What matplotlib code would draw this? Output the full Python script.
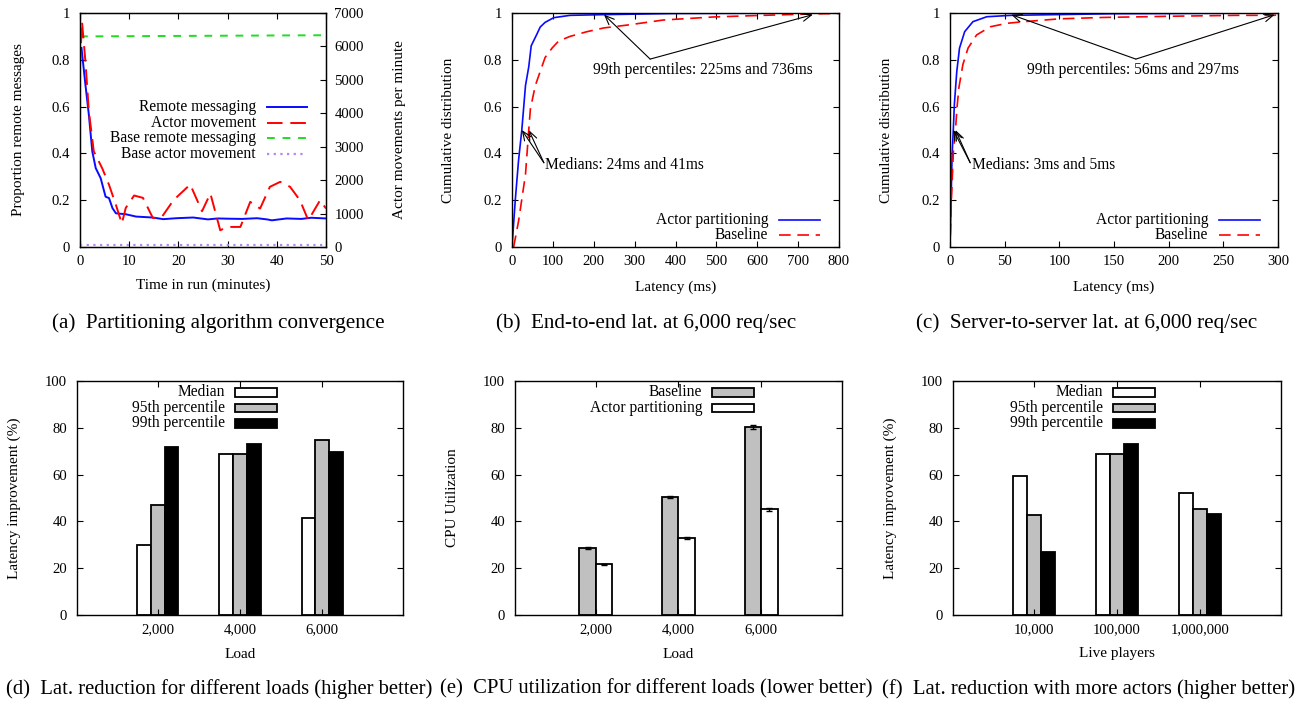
#!/usr/bin/env python3
"""Six-panel figure: partitioning convergence, latency CDFs and bar summaries."""

import matplotlib

matplotlib.use("Agg")
import matplotlib.pyplot as plt
from matplotlib.patches import Rectangle
from matplotlib.ticker import FuncFormatter

# (a) convergence over time
a_remote_t = [0.3, 1.1, 1.8, 2.5, 3.2, 4.2, 5.2, 5.9, 6.6, 7.3, 9.3, 11.4, 14.8, 16.9, 19.6, 23, 26, 28, 30, 33, 36, 38, 39, 42, 45, 47, 50]
a_remote_v = [0.851, 0.694, 0.565, 0.408, 0.337, 0.294, 0.215, 0.209, 0.166, 0.144, 0.14, 0.13, 0.126, 0.119, 0.123, 0.126, 0.118, 0.122, 0.121, 0.12, 0.123, 0.118, 0.114, 0.122, 0.12, 0.125, 0.122]
a_move_t = [0, 0.4, 1.1, 1.8, 2.8, 4.5, 5.9, 7.3, 8.5, 9.3, 11, 12.8, 14.8, 16.5, 19, 22.4, 24.8, 26.5, 28.5, 29.9, 32.6, 34.6, 36.6, 38.6, 40.7, 42.7, 44.7, 46.4, 48.8, 50]
a_move_v = [5400, 6750, 5550, 4060, 2860, 2360, 1860, 1260, 700, 1170, 1540, 1470, 870, 870, 1400, 1870, 1070, 1600, 500, 600, 600, 1350, 1150, 1800, 1950, 1800, 1400, 800, 1400, 1150]
a_base_remote_t = [0, 50]
a_base_remote_v = [0.9, 0.905]
a_base_move_t = [0, 50]
a_base_move_v = [70, 70]

# (b) end-to-end latency CDF
b_part_x = [0, 8, 16, 24, 33, 41, 47, 61, 69, 81, 102, 142, 225, 400, 800]
b_part_y = [0, 0.2, 0.37, 0.5, 0.69, 0.77, 0.86, 0.91, 0.94, 0.96, 0.98, 0.99, 0.993, 0.998, 1.0]
b_base_x = [4, 16, 33, 41, 45, 57, 69, 81, 98, 114, 142, 183, 224, 289, 370, 492, 614, 736, 800]
b_base_y = [0, 0.11, 0.31, 0.5, 0.59, 0.69, 0.75, 0.81, 0.85, 0.88, 0.9, 0.92, 0.936, 0.95, 0.97, 0.983, 0.99, 0.996, 0.998]
b_medians = [24, 41]
b_p99 = [225, 736]

# (c) server-to-server latency CDF
c_part_x = [0, 0.9, 1.9, 3, 4, 6.2, 8.7, 13.4, 21, 33.6, 56, 150, 300]
c_part_y = [0, 0.18, 0.39, 0.5, 0.61, 0.75, 0.85, 0.92, 0.963, 0.984, 0.99, 0.997, 1.0]
c_base_x = [0.3, 1.2, 3.1, 5, 6.5, 8.1, 11.8, 16.5, 24.3, 36.7, 52.2, 67.8, 100, 140, 201, 262, 297, 300]
c_base_y = [0.05, 0.19, 0.41, 0.5, 0.6, 0.68, 0.78, 0.85, 0.906, 0.941, 0.956, 0.963, 0.975, 0.981, 0.986, 0.99, 0.99, 0.995]
c_medians = [3, 5]
c_p99 = [56, 297]

# (d) latency improvement by load
d_loads = ["2,000", "4,000", "6,000"]
d_median = [30, 69, 41.5]
d_p95 = [47, 69, 75]
d_p99 = [72, 73, 69.5]

# (e) CPU utilisation by load
e_loads = ["2,000", "4,000", "6,000"]
e_baseline = [28.7, 50.5, 80.4]
e_baseline_err = [0.3, 0.4, 1.0]
e_part = [21.6, 33.0, 45.2]
e_part_err = [0.3, 0.4, 0.7]

# (f) latency improvement by number of players
f_players = ["10,000", "100,000", "1,000,000"]
f_median = [59.5, 69, 52.2]
f_p95 = [42.7, 68.7, 45.1]
f_p99 = [27, 73, 43]

W, H = 1304, 704
FS = 11
TICK_FS = 10.6
KEY_FS = 11.2
CAP_FS = 15.2
CAP_FS_LOW = 14.9
BLUE = "#0a0aff"
RED = "#ff0000"
GREEN = "#20dd20"
PURPLE = "#b088ee"
GRAY = "#c0c0c0"

plt.rcParams["font.family"] = ["Liberation Serif", "DejaVu Serif"]
plt.rcParams["font.size"] = FS


def make_axes(fig, left, right, top, bottom):
    return fig.add_axes([left / W, 1 - bottom / H, (right - left) / W, (bottom - top) / H])


def style_axes(ax, box, xlab_px=39, ylab_px=63):
    ax.tick_params(direction="in", top=True, right=True, length=4, pad=6, labelsize=TICK_FS)
    ax.tick_params(axis="y", pad=7)
    w = box[1] - box[0]
    h = box[3] - box[2]
    ax.xaxis.set_label_coords(0.5, -xlab_px / h)
    ax.xaxis.label.set_va("center")
    ax.yaxis.set_label_coords(-ylab_px / w, 0.5)
    ax.yaxis.label.set_va("center")
    for s in ax.spines.values():
        s.set_linewidth(1.0)


def draw_key(ax, x_text, x0, x1, rows, labels, styles):
    for y, label, style in zip(rows, labels, styles):
        ax.text(x_text, y, label, transform=ax.transAxes, ha="right", va="center", fontsize=KEY_FS)
        ax.plot([x0, x1], [y, y], transform=ax.transAxes, clip_on=False, **style)


def draw_bar_key(ax, x_text, x0, x1, rows, labels, colors, h=0.036):
    for y, label, c in zip(rows, labels, colors):
        ax.text(x_text, y, label, transform=ax.transAxes, ha="right", va="center", fontsize=KEY_FS)
        ax.add_patch(Rectangle((x0, y - h / 2), x1 - x0, h, transform=ax.transAxes,
                               facecolor=c, edgecolor="black", lw=1.3, clip_on=False))


num_fmt = FuncFormatter(lambda v, _: f"{v:g}")


def plot_convergence(fig):
    box = (80, 326, 13, 247)
    ax = make_axes(fig, *box)
    ax2 = ax.twinx()
    ax.plot(a_remote_t, a_remote_v, color=BLUE, lw=1.4)
    ax.plot(a_base_remote_t, a_base_remote_v, color=GREEN, lw=1.4, dashes=(4, 4))
    ax2.plot(a_move_t, a_move_v, color=RED, lw=1.4, dashes=(8, 4))
    ax2.plot(a_base_move_t, a_base_move_v, color=PURPLE, lw=1.6, dashes=(1, 2))
    ax.set_xlim(0, 50)
    ax.set_ylim(0, 1)
    ax2.set_ylim(0, 7000)
    ax.set_xticks(range(0, 51, 10))
    ax.set_yticks([0, 0.2, 0.4, 0.6, 0.8, 1])
    ax.yaxis.set_major_formatter(num_fmt)
    ax2.set_yticks(range(0, 7001, 1000))
    ax.set_xlabel("Time in run (minutes)")
    ax.set_ylabel("Proportion remote messages")
    style_axes(ax, box, xlab_px=38, ylab_px=61)
    ax.tick_params(right=False)
    ax2.tick_params(direction="in", length=4, pad=6, labelsize=TICK_FS)
    ax2.set_ylabel("Actor movements per minute")
    ax2.yaxis.set_label_coords(1 + 74 / 246, 0.5)
    ax2.yaxis.label.set_va("center")
    draw_key(ax2, 0.715, 0.76, 0.923, [0.598, 0.530, 0.466, 0.397],
             ["Remote messaging", "Actor movement", "Base remote messaging", "Base actor movement"],
             [dict(color=BLUE, lw=1.4), dict(color=RED, lw=1.4, dashes=(8, 4)),
              dict(color=GREEN, lw=1.4, dashes=(4, 4)), dict(color=PURPLE, lw=1.6, dashes=(1, 2))])


def plot_cdf(fig, box, part_x, part_y, base_x, base_y, medians, p99, xmax, xstep,
             p99_text, p99_from, med_text, med_from, key_x):
    ax = make_axes(fig, *box)
    ax.plot(part_x, part_y, color=BLUE, lw=1.2)
    ax.plot(base_x, base_y, color=RED, lw=1.2, dashes=(7, 4))
    ax.set_xlim(0, xmax)
    ax.set_ylim(0, 1)
    ax.set_xticks(range(0, xmax + 1, xstep))
    ax.set_yticks([0, 0.2, 0.4, 0.6, 0.8, 1])
    ax.yaxis.set_major_formatter(num_fmt)
    ax.set_xlabel("Latency (ms)")
    ax.set_ylabel("Cumulative distribution")
    style_axes(ax, box, xlab_px=40, ylab_px=63)
    arrow = dict(arrowstyle="->,head_length=0.6,head_width=0.25", color="black", lw=0.8, shrinkA=0, shrinkB=0)
    for v in p99:
        ax.annotate("", xy=(v, 0.993), xytext=p99_from, arrowprops=arrow)
    for v in medians:
        ax.annotate("", xy=(v, 0.5), xytext=med_from, arrowprops=arrow)
    ax.text(p99_text[0], p99_text[1], p99_text[2], ha="left", va="center", fontsize=KEY_FS)
    ax.text(med_text[0], med_text[1], med_text[2], ha="left", va="center", fontsize=KEY_FS)
    w = box[1] - box[0]
    x_text = (key_x - box[0]) / w
    draw_key(ax, x_text, x_text + 11 / w, x_text + 52 / w, [0.115, 0.051],
             ["Actor partitioning", "Baseline"],
             [dict(color=BLUE, lw=1.2), dict(color=RED, lw=1.2, dashes=(7, 4))])


def plot_bars(fig, box, labels, series, colors, width, offsets, xlabel, ylabel,
              key_labels, key_x, errors=None):
    ax = make_axes(fig, *box)
    pos = list(range(len(labels)))
    for i, (vals, c, off) in enumerate(zip(series, colors, offsets)):
        err = errors[i] if errors else None
        ax.bar([p + off for p in pos], vals, width=width, color=c, edgecolor="black", lw=1.3,
               yerr=err, capsize=2.5, error_kw=dict(lw=1.0, capthick=1.0))
    ax.set_xlim(-0.98, 2.98)
    ax.set_ylim(0, 100)
    ax.set_xticks(pos)
    ax.set_xticklabels(labels)
    ax.set_yticks(range(0, 101, 20))
    ax.set_xlabel(xlabel)
    ax.set_ylabel(ylabel)
    style_axes(ax, box, xlab_px=39, ylab_px=63)
    w = box[1] - box[0]
    xt = (key_x - box[0]) / w
    rows = [0.951, 0.885, 0.819][: len(key_labels)]
    draw_bar_key(ax, xt, xt + 10 / w, xt + 52 / w, rows, key_labels, colors)


def main():
    fig = plt.figure(figsize=(W / 100, H / 100), dpi=100)

    plot_convergence(fig)
    plot_cdf(fig, (512, 839, 13, 247), b_part_x, b_part_y, b_base_x, b_base_y, b_medians, b_p99,
             800, 100, (199, 0.757, "99th percentiles: 225ms and 736ms"), (338, 0.803),
             (80, 0.35, "Medians: 24ms and 41ms"), (78, 0.36), 768)
    plot_cdf(fig, (950, 1278, 13, 247), c_part_x, c_part_y, c_base_x, c_base_y, c_medians, c_p99,
             300, 50, (70, 0.757, "99th percentiles: 56ms and 297ms"), (170, 0.803),
             (19.8, 0.35, "Medians: 3ms and 5ms"), (18.5, 0.36), 1208)

    tri_colors = ["white", GRAY, "black"]
    tri_keys = ["Median", "95th percentile", "99th percentile"]
    plot_bars(fig, (77, 403, 381, 615), d_loads, [d_median, d_p95, d_p99], tri_colors,
              0.167, [-0.167, 0, 0.167], "Load", "Latency improvement (%)", tri_keys, 225)
    plot_bars(fig, (515, 842, 381, 615), e_loads, [e_baseline, e_part], [GRAY, "white"],
              0.2, [-0.1, 0.1], "Load", "CPU Utilization", ["Baseline", "Actor partitioning"], 702,
              errors=[e_baseline_err, e_part_err])
    plot_bars(fig, (953, 1281, 381, 615), f_players, [f_median, f_p95, f_p99], tri_colors,
              0.167, [-0.167, 0, 0.167], "Live players", "Latency improvement (%)", tri_keys, 1103)

    captions = [
        (218, 323, "(a)  Partitioning algorithm convergence", CAP_FS),
        (646, 323, "(b)  End-to-end lat. at 6,000 req/sec", CAP_FS),
        (1087, 323, "(c)  Server-to-server lat. at 6,000 req/sec", CAP_FS),
        (219, 689, "(d)  Lat. reduction for different loads (higher better)", CAP_FS_LOW),
        (656, 689, "(e)  CPU utilization for different loads (lower better)", CAP_FS_LOW),
        (1089, 689, "(f)  Lat. reduction with more actors (higher better)", CAP_FS_LOW),
    ]
    for x, y, text, size in captions:
        fig.text(x / W, 1 - y / H, text, ha="center", va="center", fontsize=size)

    fig.savefig("out.png", dpi=100)
    plt.close(fig)


if __name__ == "__main__":
    main()
